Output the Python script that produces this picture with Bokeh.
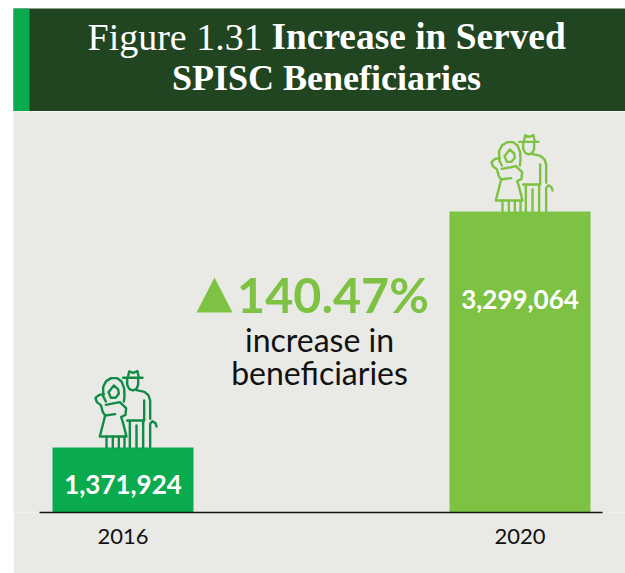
from bokeh.plotting import figure
from bokeh.layouts import column
from bokeh.embed import file_html
from bokeh.resources import INLINE
from bokeh.core.properties import value
from bokeh.models import FixedTicker, Range1d

# ---- data -----
YEARS = [2016, 2020]
BENEFICIARIES = [1371924, 3299064]
VALUE_LABELS = ["1,371,924", "3,299,064"]
BAR_COLORS = ["#0AAB4E", "#7DC242"]
ICON_COLORS = ["#118C46", "#7DC242"]
CHANGE_LABEL = "140.47%"
NOTE_LINES = ["increase in", "beneficiaries"]

PANEL = "#E9EAE6"
DARK = "#214421"
SANS = "Lato"
SERIF = "Liberation Serif"

# ---- page geometry (window px) -----
LEFT, TOP, RIGHT, BOTTOM = 13, 111, 625, 573
AX_L, AX_R, FR_B = 39, 602, 512
PX_PER_YEAR = 397 / 4
BAR_W_YEARS = 141 / PX_PER_YEAR
BASE = 840977            # the reference's bars start from a truncated baseline
PER_PX = (BENEFICIARIES[1] - BASE) / 301

def dx(px): return YEARS[0] + (px - 122.5) / PX_PER_YEAR
def dy(py): return BASE + (FR_B - py) * PER_PX

# ---- header -----
h = figure(width=RIGHT - LEFT, height=103, x_range=Range1d(LEFT, RIGHT), y_range=Range1d(111, 8),
           toolbar_location=None, output_backend="svg", min_border=0,
           x_axis_location=None, y_axis_location=None, margin=(8, 0, 0, 13),
           background_fill_color=DARK, border_fill_color=DARK, outline_line_color=None)
h.grid.visible = False
h.quad(left=[13], right=[29], top=[8], bottom=[111], color=BAR_COLORS[0], line_color=None)
h.text(x=[87], y=[36], text=["Figure 1.31"], text_font=value(SERIF), text_font_size="38px",
       text_color="white", text_baseline="alphabetic", text_align="left")
h.text(x=[271], y=[36], text=["Increase in Served"], text_font=value(SERIF), text_font_size="37.4px",
       text_font_style="bold", text_color="white", text_baseline="alphabetic", text_align="left")
h.text(x=[326], y=[77], text=["SPISC Beneficiaries"], text_font=value(SERIF), text_font_size="36px",
       text_font_style="bold", text_color="white", text_baseline="alphabetic", text_align="center")

# ---- chart -----
p = figure(width=RIGHT - LEFT, height=BOTTOM - TOP, x_range=Range1d(dx(LEFT), dx(RIGHT)),
           y_range=Range1d(BASE, dy(TOP)),
           toolbar_location=None, output_backend="svg", y_axis_location=None,
           min_border_left=0, min_border_right=0, min_border_top=0,
           min_border_bottom=BOTTOM - FR_B, margin=(0, 0, 0, 13),
           background_fill_color=PANEL, border_fill_color=PANEL, outline_line_color=None)
p.grid.visible = False
p.vbar(x=YEARS, top=BENEFICIARIES, bottom=BASE, width=BAR_W_YEARS, color=BAR_COLORS, line_color=None)

ax = p.xaxis[0]
ax.bounds = (dx(AX_L), dx(AX_R))
ax.ticker = FixedTicker(ticks=YEARS)
ax.major_label_overrides = {y: str(y) for y in YEARS}
ax.major_tick_line_color = None
ax.minor_tick_line_color = None
ax.axis_line_color = "#111111"
ax.axis_line_width = 1.5
ax.major_label_text_font = SANS
ax.major_label_text_font_size = "22px"
ax.major_label_text_color = "#111111"
ax.major_label_standoff = 10

# value labels inside the bars
p.text(x=YEARS, y=[dy(484), dy(299)], text=VALUE_LABELS, text_font=value(SANS), text_font_size="26px",
       text_font_style="bold", text_color="white", text_align="center", text_baseline="middle")

# callout
p.patch(x=[dx(196), dx(214), dx(232)], y=[dy(312), dy(277), dy(312)], color=BAR_COLORS[1], line_color=None)
p.text(x=[dx(332.5)], y=[dy(293)], text=[CHANGE_LABEL], text_font=value(SANS), text_font_size="48.5px",
       text_font_style="bold", text_color=BAR_COLORS[1], text_align="center", text_baseline="middle")
p.text(x=[dx(319), dx(319)], y=[dy(339), dy(372)], text=NOTE_LINES, text_font=value(SANS), text_font_size="32px",
       text_color="#111111", text_align="center", text_baseline="middle")

# pictogram of the elderly couple, drawn in a 3x local grid
ICON = [
    [(128, 37), (186, 37)],
    [(142, 37), (146, 18), (158, 22), (171, 17), (175, 37)],
    [(140, 42), (140, 58), (146, 70), (157, 75), (168, 70), (173, 58), (173, 42)],
    [(168, 74), (192, 79), (204, 90), (209, 105), (209, 160)],
    [(191, 105), (191, 165), (140, 165)],
    [(148, 168), (148, 246)],
    [(168, 180), (168, 246)],
    [(188, 165), (188, 246)],
    [(209, 246), (209, 175), (216, 167), (225, 173), (228, 183)],
    [(76, 108), (68, 92), (68, 64), (77, 47), (92, 38), (110, 38), (123, 48), (131, 68), (132, 92), (130, 108)],
    [(84, 80), (100, 60), (113, 72), (115, 85), (105, 97), (91, 97), (84, 80)],
    [(70, 86), (56, 88), (45, 97), (49, 110), (61, 119), (67, 140), (74, 150), (104, 146)],
    [(76, 118), (118, 110), (137, 128), (135, 148), (122, 155), (127, 170), (138, 213), (58, 213), (74, 150)],
    [(78, 213), (78, 246)], [(97, 213), (97, 246)], [(115, 213), (115, 246)], [(132, 213), (132, 246)],
]
ICON_DX = [0, -1]
for i, yr in enumerate(YEARS):
    xs = [[yr + ((a - 127.5 + ICON_DX[i] * 3) / 3) / PX_PER_YEAR for a, _ in s] for s in ICON]
    ys = [[BENEFICIARIES[i] + ((246 - b) / 3) * PER_PX for _, b in s] for s in ICON]
    p.multi_line(xs=xs, ys=ys, line_color=ICON_COLORS[i], line_width=2.4,
                 line_join="round", line_cap="round")

layout = column(h, p, spacing=0)
open("out.html", "w").write(file_html(layout, INLINE))
